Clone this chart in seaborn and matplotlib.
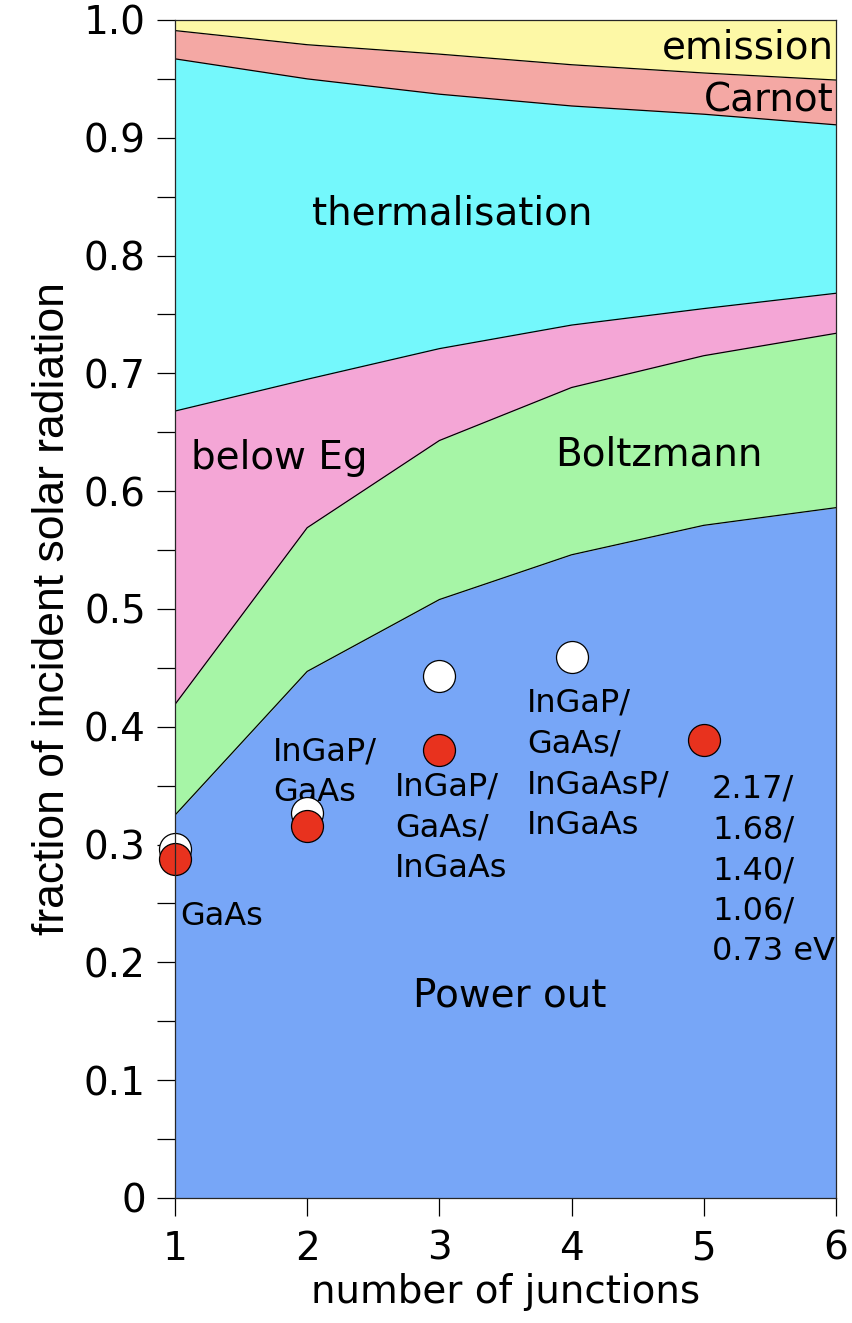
import numpy as np
import matplotlib
matplotlib.use("Agg")
import matplotlib.pyplot as plt
import seaborn as sns

# Number of junctions
junctions = [1, 2, 3, 4, 5, 6]

# Upper boundaries of each stacked band (cumulative fraction)
power_out_top = [0.325, 0.447, 0.508, 0.546, 0.571, 0.586]
boltzmann_top = [0.419, 0.569, 0.643, 0.688, 0.715, 0.734]
below_eg_top = [0.668, 0.695, 0.721, 0.741, 0.755, 0.768]
thermal_top = [0.967, 0.950, 0.937, 0.927, 0.920, 0.911]
carnot_top = [0.991, 0.979, 0.971, 0.962, 0.955, 0.949]
emission_top = [1.0, 1.0, 1.0, 1.0, 1.0, 1.0]

band_colors = ["#77A6F7", "#A6F5A6", "#F4A6D6", "#74F8FC", "#F4A8A4", "#FDF8A6"]

# Measured / record cell efficiencies
white_x = [1, 2, 3, 4]
white_y = [0.296, 0.327, 0.443, 0.459]
red_x = [1, 2, 3, 5]
red_y = [0.288, 0.316, 0.380, 0.389]

sns.set_style("ticks")
plt.rcParams["font.family"] = ["DejaVu Sans"]
plt.rcParams["text.color"] = "black"
plt.rcParams["axes.labelcolor"] = "black"
plt.rcParams["xtick.color"] = "black"
plt.rcParams["ytick.color"] = "black"

fig = plt.figure(figsize=(8.52, 13.23), dpi=100)
ax = fig.add_axes([0.2054, 0.0945, 0.7758, 0.8904])

tops = [power_out_top, boltzmann_top, below_eg_top, thermal_top, carnot_top, emission_top]
lower = np.zeros(len(junctions))
for top, col in zip(tops, band_colors):
    ax.fill_between(junctions, lower, top, color=col, linewidth=0, zorder=1)
    lower = np.array(top)
for top in tops[:-1]:
    sns.lineplot(x=junctions, y=top, color="black", linewidth=0.9, ax=ax, zorder=2)

sns.scatterplot(x=white_x, y=white_y, s=530, color="white", edgecolor="black",
                linewidth=0.9, ax=ax, zorder=4, clip_on=False)
sns.scatterplot(x=red_x, y=red_y, s=530, color="#E8321E", edgecolor="black",
                linewidth=0.9, ax=ax, zorder=5, clip_on=False)

ax.set_xlim(1, 6)
ax.set_ylim(0, 1.0)
ax.set_xticks(junctions)
ax.set_yticks(np.arange(0, 1.01, 0.1))
ax.set_yticklabels(["0"] + [f"{v:.1f}" for v in np.arange(0.1, 1.01, 0.1)])
ax.set_yticks(np.arange(0.05, 1.0, 0.1), minor=True)
ax.tick_params(axis="both", which="major", labelsize=28, length=13, width=0.9,
               direction="out")
ax.tick_params(axis="y", which="major", pad=8)
ax.tick_params(axis="x", which="major", pad=10)
ax.tick_params(axis="y", which="minor", length=13, width=0.9, direction="out")
for sp in ax.spines.values():
    sp.set_linewidth(0.9)
    sp.set_zorder(6)

ax.set_xlabel("number of junctions", fontsize=28, labelpad=4)
ax.set_ylabel("fraction of incident solar radiation", fontsize=32,
              family=["Liberation Sans", "DejaVu Sans"], labelpad=8)

# Band labels
big = dict(fontsize=28, va="center")
ax.text(5.985, 0.977, "emission", ha="right", **big)
ax.text(5.985, 0.932, "Carnot", ha="right", **big)
ax.text(3.095, 0.836, "thermalisation", ha="center", **big)
ax.text(1.787, 0.628, "below Eg", ha="center", **big)
ax.text(4.66, 0.631, "Boltzmann", ha="center", **big)
ax.text(3.53, 0.172, "Power out", ha="center", **big)

# Cell labels
lab_kw = dict(fontsize=23, ha="left", va="top", linespacing=1.4)
ax.text(1.04, 0.252, "GaAs", **lab_kw)
ax.text(1.74, 0.392, "InGaP/\nGaAs", **lab_kw)
ax.text(2.664, 0.362, "InGaP/\nGaAs/\nInGaAs", **lab_kw)
ax.text(3.663, 0.433, "InGaP/\nGaAs/\nInGaAsP/\nInGaAs", **lab_kw)
ax.text(5.062, 0.360, "2.17/\n1.68/\n1.40/\n1.06/\n0.73 eV", **lab_kw)

fig.savefig("out.png", dpi=100)
